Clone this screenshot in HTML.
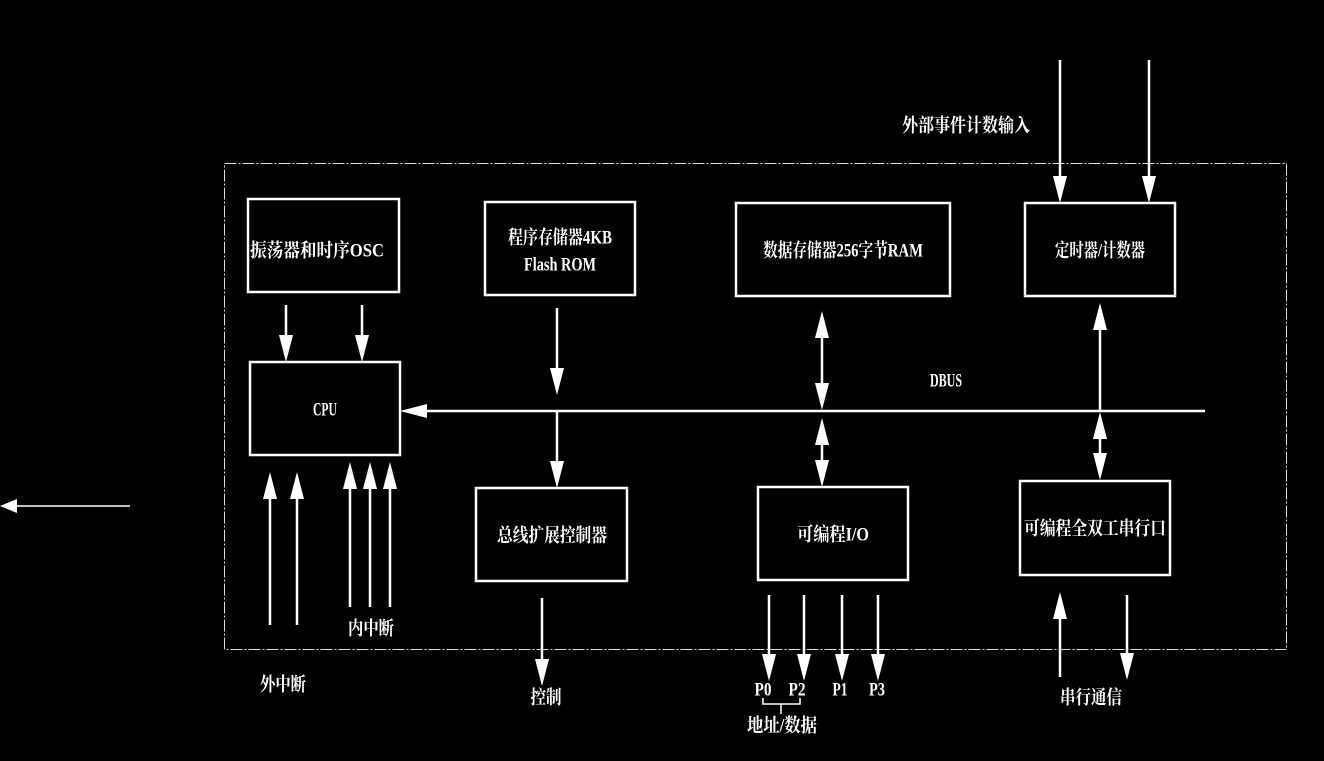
<!DOCTYPE html>
<html><head><meta charset="utf-8"><style>
html,body{margin:0;padding:0;background:#000;}
svg{display:block;}
text{fill:#fff;font-family:"Liberation Serif","Noto Serif CJK SC","WenQuanYi Zen Hei",serif;font-weight:bold;font-size:19px;dominant-baseline:central;}
</style></head><body>
<svg width="1324" height="761" viewBox="0 0 1324 761" xmlns="http://www.w3.org/2000/svg">
<rect x="0" y="0" width="1324" height="761" fill="#000"/>
<rect x="224.5" y="163.5" width="1062" height="486" fill="none" stroke="#ddd" stroke-width="1" stroke-dasharray="12,2,2,2"/>
<g fill="none" stroke="#fff" stroke-width="2.5">
<rect x="248" y="199" width="151" height="93"/>
<rect x="485" y="202" width="150" height="93"/>
<rect x="736" y="203" width="214" height="93"/>
<rect x="1025" y="203" width="150" height="93"/>
<rect x="250" y="362" width="150" height="93"/>
<rect x="476" y="488" width="151" height="93"/>
<rect x="758" y="487" width="150" height="93"/>
<rect x="1020" y="481" width="150" height="94"/>
</g>
<g stroke="#fff" stroke-width="2.5">
<line x1="286" y1="305" x2="286" y2="340"/>
<line x1="362" y1="305" x2="362" y2="340"/>
<line x1="557" y1="308" x2="557" y2="372"/>
<line x1="420" y1="411" x2="1205" y2="411"/>
<line x1="557" y1="411" x2="557" y2="466"/>
<line x1="822" y1="330" x2="822" y2="390"/>
<line x1="822" y1="438" x2="822" y2="466"/>
<line x1="1100" y1="325" x2="1100" y2="411"/>
<line x1="1100" y1="435" x2="1100" y2="458"/>
<line x1="1060" y1="60" x2="1060" y2="180"/>
<line x1="1149" y1="60" x2="1149" y2="180"/>
<line x1="270" y1="495" x2="270" y2="625"/>
<line x1="297" y1="495" x2="297" y2="625"/>
<line x1="350" y1="485" x2="350" y2="607"/>
<line x1="370" y1="485" x2="370" y2="607"/>
<line x1="390" y1="485" x2="390" y2="607"/>
<line x1="542" y1="598" x2="542" y2="660"/>
<line x1="769" y1="595" x2="769" y2="655"/>
<line x1="804" y1="595" x2="804" y2="655"/>
<line x1="842" y1="595" x2="842" y2="655"/>
<line x1="878" y1="595" x2="878" y2="655"/>
<line x1="1060" y1="618" x2="1060" y2="677"/>
<line x1="1127" y1="595" x2="1127" y2="655"/>
</g>
<line x1="14" y1="506" x2="130" y2="506" stroke="#fff" stroke-width="1.5"/>
<polyline points="763,698 763,704 800,704 800,698" fill="none" stroke="#fff" stroke-width="1.5"/>
<line x1="781" y1="704" x2="781" y2="714" stroke="#fff" stroke-width="1.5"/>
<g fill="#fff">
<polygon points="0,506 17,499 17,513"/>
<polygon points="279,335 293,335 286,362"/>
<polygon points="355,335 369,335 362,362"/>
<polygon points="550,368 564,368 557,395"/>
<polygon points="400,411 427,404 427,418"/>
<polygon points="550,461 564,461 557,488"/>
<polygon points="815,338 829,338 822,311"/>
<polygon points="815,383 829,383 822,410"/>
<polygon points="815,445 829,445 822,418"/>
<polygon points="815,460 829,460 822,487"/>
<polygon points="1093,330 1107,330 1100,303"/>
<polygon points="1093,439 1107,439 1100,412"/>
<polygon points="1093,453 1107,453 1100,480"/>
<polygon points="1053,176 1067,176 1060,203"/>
<polygon points="1142,176 1156,176 1149,203"/>
<polygon points="263,499 277,499 270,472"/>
<polygon points="290,499 304,499 297,472"/>
<polygon points="343,489 357,489 350,462"/>
<polygon points="363,489 377,489 370,462"/>
<polygon points="383,489 397,489 390,462"/>
<polygon points="535,659 549,659 542,686"/>
<polygon points="762,654 776,654 769,681"/>
<polygon points="797,654 811,654 804,681"/>
<polygon points="835,654 849,654 842,681"/>
<polygon points="871,654 885,654 878,681"/>
<polygon points="1053,619 1067,619 1060,592"/>
<polygon points="1120,653 1134,653 1127,680"/>
</g>
<g text-anchor="middle" lengthAdjust="spacingAndGlyphs">
<text x="317" y="251" textLength="134" lengthAdjust="spacingAndGlyphs">振荡器和时序OSC</text>
<text x="560" y="238" textLength="104" lengthAdjust="spacingAndGlyphs">程序存储器4KB</text>
<text x="560" y="265" textLength="72" lengthAdjust="spacingAndGlyphs">Flash ROM</text>
<text x="843" y="251" textLength="160" lengthAdjust="spacingAndGlyphs">数据存储器256字节RAM</text>
<text x="1100" y="251" textLength="90" lengthAdjust="spacingAndGlyphs">定时器/计数器</text>
<text x="325" y="410" textLength="24" lengthAdjust="spacingAndGlyphs">CPU</text>
<text x="552" y="536" textLength="110" lengthAdjust="spacingAndGlyphs">总线扩展控制器</text>
<text x="833" y="535" textLength="72" lengthAdjust="spacingAndGlyphs">可编程I/O</text>
<text x="1095" y="529" textLength="142" lengthAdjust="spacingAndGlyphs">可编程全双工串行口</text>
<text x="946" y="381" textLength="32" lengthAdjust="spacingAndGlyphs">DBUS</text>
<text x="966" y="126" textLength="128" lengthAdjust="spacingAndGlyphs">外部事件计数输入</text>
<text x="371" y="629" textLength="46" lengthAdjust="spacingAndGlyphs">内中断</text>
<text x="283" y="685" textLength="46" lengthAdjust="spacingAndGlyphs">外中断</text>
<text x="546" y="698" textLength="31" lengthAdjust="spacingAndGlyphs">控制</text>
<text x="763" y="690" textLength="17" lengthAdjust="spacingAndGlyphs">P0</text>
<text x="797" y="690" textLength="17" lengthAdjust="spacingAndGlyphs">P2</text>
<text x="840" y="690" textLength="15" lengthAdjust="spacingAndGlyphs">P1</text>
<text x="877" y="690" textLength="16" lengthAdjust="spacingAndGlyphs">P3</text>
<text x="782" y="726" textLength="70" lengthAdjust="spacingAndGlyphs">地址/数据</text>
<text x="1091" y="698" textLength="62" lengthAdjust="spacingAndGlyphs">串行通信</text>
</g>
</svg>
</body></html>
